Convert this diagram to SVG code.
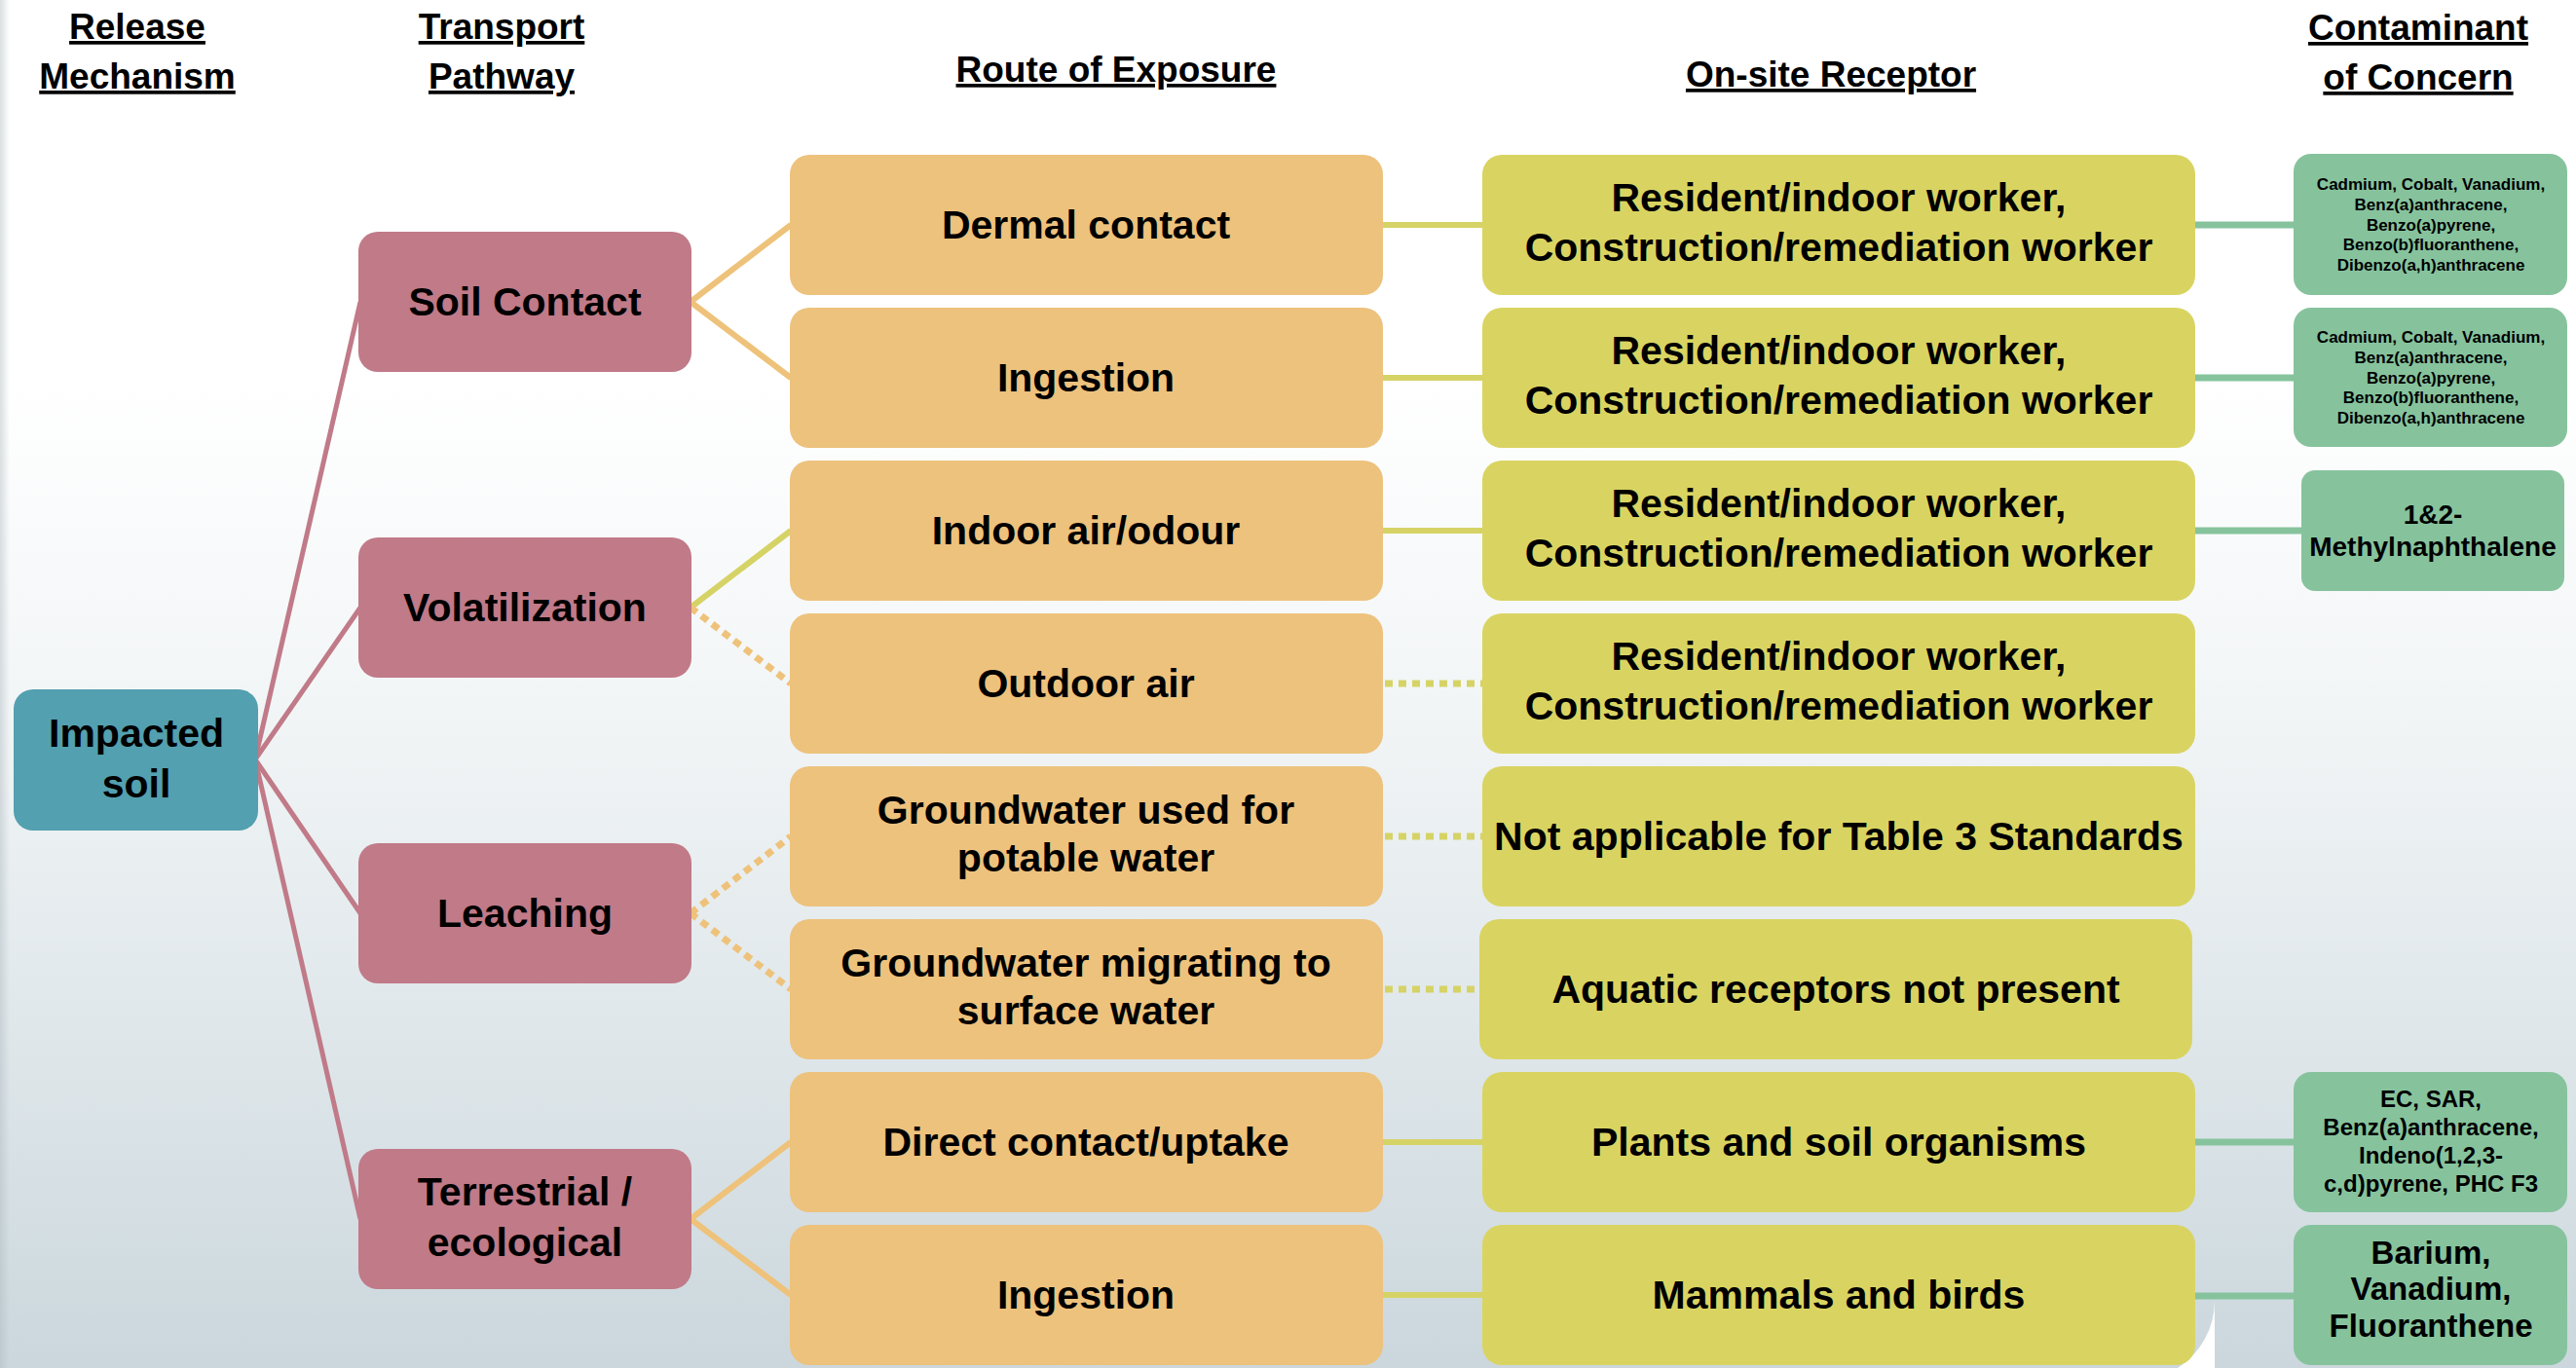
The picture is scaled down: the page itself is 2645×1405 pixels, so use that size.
<svg xmlns="http://www.w3.org/2000/svg" width="2645" height="1405" viewBox="0 0 2645 1405">
<defs>
<linearGradient id="bg" x1="0" y1="0" x2="0" y2="1">
<stop offset="0" stop-color="#FFFFFF"/>
<stop offset="0.28" stop-color="#FFFFFF"/>
<stop offset="0.5" stop-color="#F3F6F7"/>
<stop offset="0.72" stop-color="#E2E9EC"/>
<stop offset="1" stop-color="#CBD7DD"/>
</linearGradient>
<linearGradient id="edge" x1="0" y1="0" x2="1" y2="0">
<stop offset="0" stop-color="#AEB9BF" stop-opacity="0.45"/>
<stop offset="1" stop-color="#AEB9BF" stop-opacity="0"/>
</linearGradient>
<style>
text { font-family: "Liberation Sans", Arial, sans-serif; font-weight: bold; fill: #000; text-anchor: middle; }
.hdr { font-size: 37px; text-decoration: underline; }
.t41 { font-size: 41px; }
.src rect { fill: #53A0B0; }
.tp rect { fill: #C07A88; }
.rt rect { fill: #EDC27D; }
.rc rect { fill: #D9D462; }
.coc rect { fill: #86C39D; }
.lk { fill: none; stroke-width: 6; }
.pink { stroke: #C07A88; stroke-width: 5; }
.orange { stroke: #EEC27A; }
.yel { stroke: #D6D366; }
.grn { stroke: #86C39D; stroke-width: 7; }
.dot { stroke-dasharray: 8 6; stroke-width: 7; }
</style>
</defs>

<rect x="0" y="0" width="2645" height="1405" fill="url(#bg)"/>
<rect x="0" y="0" width="10" height="1405" fill="url(#edge)"/>
<path d="M2274,1336 L2274,1405 L2236,1405 A82,82 0 0 0 2274,1336 Z" fill="#FFFFFF"/>

<g id="headers">
<text class="hdr" x="141" y="40">Release</text>
<text class="hdr" x="141" y="91">Mechanism</text>
<text class="hdr" x="515" y="40">Transport</text>
<text class="hdr" x="515" y="91">Pathway</text>
<text class="hdr" x="1146" y="84">Route of Exposure</text>
<text class="hdr" x="1880" y="89">On-site Receptor</text>
<text class="hdr" x="2483" y="41">Contaminant</text>
<text class="hdr" x="2483" y="92">of Concern</text>
</g>

<g id="connectors">
<line class="lk pink" x1="262" y1="780" x2="370" y2="310"/>
<line class="lk pink" x1="262" y1="780" x2="370" y2="624"/>
<line class="lk pink" x1="262" y1="780" x2="370" y2="938"/>
<line class="lk pink" x1="262" y1="780" x2="370" y2="1252"/>

<line class="lk orange" x1="709" y1="310" x2="812" y2="231"/>
<line class="lk orange" x1="709" y1="310" x2="812" y2="388"/>
<line class="lk yel" x1="709" y1="624" x2="812" y2="545"/>
<line class="lk orange dot" x1="709" y1="624" x2="812" y2="702"/>
<line class="lk orange dot" x1="709" y1="938" x2="812" y2="859"/>
<line class="lk orange dot" x1="709" y1="938" x2="812" y2="1016"/>
<line class="lk orange" x1="709" y1="1252" x2="812" y2="1173"/>
<line class="lk orange" x1="709" y1="1252" x2="812" y2="1330"/>

<line class="lk yel" x1="1418" y1="231" x2="1524" y2="231"/>
<line class="lk yel" x1="1418" y1="388" x2="1524" y2="388"/>
<line class="lk yel" x1="1418" y1="545" x2="1524" y2="545"/>
<line class="lk yel dot" x1="1422" y1="702" x2="1522" y2="702"/>
<line class="lk yel dot" x1="1422" y1="859" x2="1522" y2="859"/>
<line class="lk yel dot" x1="1422" y1="1016" x2="1519" y2="1016"/>
<line class="lk yel" x1="1418" y1="1173" x2="1524" y2="1173"/>
<line class="lk yel" x1="1418" y1="1330" x2="1524" y2="1330"/>

<line class="lk grn" x1="2250" y1="231" x2="2357" y2="231"/>
<line class="lk grn" x1="2250" y1="388" x2="2357" y2="388"/>
<line class="lk grn" x1="2250" y1="545" x2="2365" y2="545"/>
<line class="lk grn" x1="2250" y1="1173" x2="2357" y2="1173"/>
<line class="lk grn" x1="2250" y1="1331" x2="2357" y2="1331"/>
</g>

<g id="impacted-soil" class="src">
<rect x="14" y="708" width="251" height="145" rx="20"/>
<text class="t41" x="140" y="767">Impacted</text>
<text class="t41" x="140" y="819">soil</text>
</g>

<g id="soil-contact" class="tp">
<rect x="368" y="238" width="342" height="144" rx="20"/>
<text class="t41" x="539" y="324">Soil Contact</text>
</g>
<g id="volatilization" class="tp">
<rect x="368" y="552" width="342" height="144" rx="20"/>
<text class="t41" x="539" y="638">Volatilization</text>
</g>
<g id="leaching" class="tp">
<rect x="368" y="866" width="342" height="144" rx="20"/>
<text class="t41" x="539" y="952">Leaching</text>
</g>
<g id="terrestrial" class="tp">
<rect x="368" y="1180" width="342" height="144" rx="20"/>
<text class="t41" x="539" y="1238">Terrestrial /</text>
<text class="t41" x="539" y="1290">ecological</text>
</g>

<g id="dermal-contact" class="rt">
<rect x="811" y="159" width="609" height="144" rx="20"/>
<text class="t41" x="1115" y="245">Dermal contact</text>
</g>
<g id="ingestion-1" class="rt">
<rect x="811" y="316" width="609" height="144" rx="20"/>
<text class="t41" x="1115" y="402">Ingestion</text>
</g>
<g id="indoor-air" class="rt">
<rect x="811" y="473" width="609" height="144" rx="20"/>
<text class="t41" x="1115" y="559">Indoor air/odour</text>
</g>
<g id="outdoor-air" class="rt">
<rect x="811" y="630" width="609" height="144" rx="20"/>
<text class="t41" x="1115" y="716">Outdoor air</text>
</g>
<g id="gw-potable" class="rt">
<rect x="811" y="787" width="609" height="144" rx="20"/>
<text class="t41" x="1115" y="846">Groundwater used for</text>
<text class="t41" x="1115" y="895">potable water</text>
</g>
<g id="gw-surface" class="rt">
<rect x="811" y="944" width="609" height="144" rx="20"/>
<text class="t41" x="1115" y="1003">Groundwater migrating to</text>
<text class="t41" x="1115" y="1052">surface water</text>
</g>
<g id="direct-contact" class="rt">
<rect x="811" y="1101" width="609" height="144" rx="20"/>
<text class="t41" x="1115" y="1187">Direct contact/uptake</text>
</g>
<g id="ingestion-2" class="rt">
<rect x="811" y="1258" width="609" height="144" rx="20"/>
<text class="t41" x="1115" y="1344">Ingestion</text>
</g>

<g id="receptor-1" class="rc">
<rect x="1522" y="159" width="732" height="144" rx="20"/>
<text class="t41" x="1888" y="217">Resident/indoor worker,</text>
<text class="t41" x="1888" y="268">Construction/remediation worker</text>
</g>
<g id="receptor-2" class="rc">
<rect x="1522" y="316" width="732" height="144" rx="20"/>
<text class="t41" x="1888" y="374">Resident/indoor worker,</text>
<text class="t41" x="1888" y="425">Construction/remediation worker</text>
</g>
<g id="receptor-3" class="rc">
<rect x="1522" y="473" width="732" height="144" rx="20"/>
<text class="t41" x="1888" y="531">Resident/indoor worker,</text>
<text class="t41" x="1888" y="582">Construction/remediation worker</text>
</g>
<g id="receptor-4" class="rc">
<rect x="1522" y="630" width="732" height="144" rx="20"/>
<text class="t41" x="1888" y="688">Resident/indoor worker,</text>
<text class="t41" x="1888" y="739">Construction/remediation worker</text>
</g>
<g id="receptor-5" class="rc">
<rect x="1522" y="787" width="732" height="144" rx="20"/>
<text class="t41" x="1888" y="873">Not applicable for Table 3 Standards</text>
</g>
<g id="receptor-6" class="rc">
<rect x="1519" y="944" width="732" height="144" rx="20"/>
<text class="t41" x="1885" y="1030">Aquatic receptors not present</text>
</g>
<g id="receptor-7" class="rc">
<rect x="1522" y="1101" width="732" height="144" rx="20"/>
<text class="t41" x="1888" y="1187">Plants and soil organisms</text>
</g>
<g id="receptor-8" class="rc">
<rect x="1522" y="1258" width="732" height="144" rx="20"/>
<text class="t41" x="1888" y="1344">Mammals and birds</text>
</g>

<g id="coc-1" class="coc" font-size="17">
<rect x="2355" y="158" width="281" height="145" rx="18"/>
<text x="2496" y="195">Cadmium, Cobalt, Vanadium,</text>
<text x="2496" y="216">Benz(a)anthracene,</text>
<text x="2496" y="237">Benzo(a)pyrene,</text>
<text x="2496" y="257">Benzo(b)fluoranthene,</text>
<text x="2496" y="278">Dibenzo(a,h)anthracene</text>
</g>
<g id="coc-2" class="coc" font-size="17">
<rect x="2355" y="316" width="281" height="143" rx="18"/>
<text x="2496" y="352">Cadmium, Cobalt, Vanadium,</text>
<text x="2496" y="373">Benz(a)anthracene,</text>
<text x="2496" y="394">Benzo(a)pyrene,</text>
<text x="2496" y="414">Benzo(b)fluoranthene,</text>
<text x="2496" y="435">Dibenzo(a,h)anthracene</text>
</g>
<g id="coc-3" class="coc" font-size="28">
<rect x="2363" y="483" width="270" height="124" rx="14"/>
<text x="2498" y="538">1&amp;2-</text>
<text x="2498" y="571">Methylnaphthalene</text>
</g>
<g id="coc-7" class="coc" font-size="24">
<rect x="2355" y="1101" width="281" height="144" rx="18"/>
<text x="2496" y="1137">EC, SAR,</text>
<text x="2496" y="1166">Benz(a)anthracene,</text>
<text x="2496" y="1195">Indeno(1,2,3-</text>
<text x="2496" y="1224">c,d)pyrene, PHC F3</text>
</g>
<g id="coc-8" class="coc" font-size="33">
<rect x="2355" y="1258" width="281" height="144" rx="18"/>
<text x="2496" y="1298">Barium,</text>
<text x="2496" y="1335">Vanadium,</text>
<text x="2496" y="1373">Fluoranthene</text>
</g>
</svg>
